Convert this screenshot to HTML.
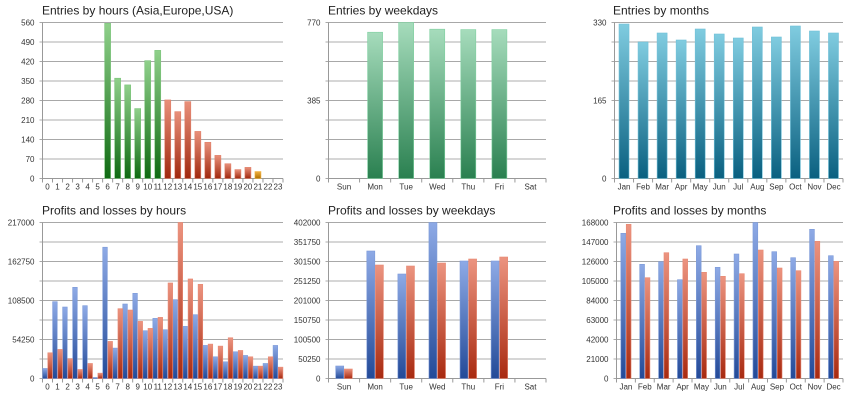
<!DOCTYPE html><html><head><meta charset="utf-8"><style>
body{margin:0;background:#fff;width:860px;height:400px;overflow:hidden}
svg{display:block;font-family:"Liberation Sans",sans-serif}
</style></head><body>
<svg id="s" width="860" height="400" xmlns="http://www.w3.org/2000/svg">
<defs>
<linearGradient id="gG" x1="0" y1="0" x2="0" y2="1"><stop offset="0" stop-color="#8fd08a"/><stop offset="1" stop-color="#0f6a12"/></linearGradient>
<linearGradient id="gR" x1="0" y1="0" x2="0" y2="1"><stop offset="0" stop-color="#e9907a"/><stop offset="1" stop-color="#a0280e"/></linearGradient>
<linearGradient id="gO" x1="0" y1="0" x2="0" y2="1"><stop offset="0" stop-color="#f0b040"/><stop offset="1" stop-color="#b07000"/></linearGradient>
<linearGradient id="gW" x1="0" y1="0" x2="0" y2="1"><stop offset="0" stop-color="#a6dcbc"/><stop offset="1" stop-color="#2a8050"/></linearGradient>
<linearGradient id="gM" x1="0" y1="0" x2="0" y2="1"><stop offset="0" stop-color="#80cce0"/><stop offset="1" stop-color="#0a6080"/></linearGradient>
<linearGradient id="gB" x1="0" y1="0" x2="0" y2="1"><stop offset="0" stop-color="#8eaae6"/><stop offset="1" stop-color="#234a98"/></linearGradient>
<linearGradient id="gL" x1="0" y1="0" x2="0" y2="1"><stop offset="0" stop-color="#ec9480"/><stop offset="1" stop-color="#a82a10"/></linearGradient>
</defs>
</svg>
<script>
var s=document.getElementById('s'),h='';
function chart(o){
 var x0=o.x0,x1=o.x1,top=o.top,bot=o.bot,n=o.cats.length,cw=(x1-x0)/n;
 h+='<text x="'+o.tx+'" y="'+(top-8)+'" font-size="12" fill="#222">'+o.title+'</text>';
 for(var i=0;i<=8;i++){var y=top+(bot-top)*i/8;
  if(i%2==0)h+='<line x1="'+(x0-3)+'" x2="'+x1+'" y1="'+y+'" y2="'+y+'" stroke="#a8a8a8" stroke-width="1"/>';
  else h+='<line x1="'+(x0-3)+'" x2="'+x1+'" y1="'+y+'" y2="'+y+'" stroke="#d6d6d6" stroke-width="2"/>';}
 o.ylab.forEach(function(l){var y=top+(bot-top)*l[0]/8;h+='<text x="'+(x0-8)+'" y="'+(y+3)+'" font-size="8" fill="#333" text-anchor="end">'+l[1]+'</text>';});
 h+='<line x1="'+x0+'" x2="'+x0+'" y1="'+top+'" y2="'+(bot+4)+'" stroke="#999"/>';
 h+='<line x1="'+x0+'" x2="'+x1+'" y1="'+bot+'" y2="'+bot+'" stroke="#999"/>';
 for(var i=0;i<=n;i++){var x=x0+cw*i;h+='<line x1="'+x+'" x2="'+x+'" y1="'+bot+'" y2="'+(bot+4)+'" stroke="#999"/>';}
 o.cats.forEach(function(c,i){h+='<text x="'+(x0+cw*(i+.5))+'" y="'+(bot+11)+'" font-size="8" fill="#333" text-anchor="middle">'+c+'</text>';});
 o.series.forEach(function(se,k){se.v.forEach(function(v,i){if(!v)return;
  var hh=Math.min(v/o.max,1)*(bot-top),c=x0+cw*(i+.5),bx;
  if(o.series.length==1)bx=c-o.bw/2;else bx=k==0?c-o.bw-0.3:c+0.3;
  var f=se.f(i);h+='<rect x="'+bx+'" y="'+(bot-hh)+'" width="'+o.bw+'" height="'+hh+'" fill="url(#'+f+')" stroke="'+se.s(i)+'" stroke-width="0.6"/>';});});
}
var hrs=[];for(var i=0;i<24;i++)hrs.push(i);
chart({x0:42.5,x1:283,top:22.5,bot:178.5,cats:hrs,bw:6,max:560,title:"Entries by hours (Asia,Europe,USA)",tx:42,
 ylab:[[0,560],[1,490],[2,420],[3,350],[4,280],[5,210],[6,140],[7,70],[8,0]],
 series:[{v:[0,0,0,0,0,0,557,360,336,251,423,460,282,240,276,169,130,83,53,32,40,25,0,0],
  f:function(i){return i<12?'gG':i<21?'gR':'gO'},s:function(i){return i<12?'#7cc47c':i<21?'#e0806a':'#f0b040'}}]});
var wk=["Sun","Mon","Tue","Wed","Thu","Fri","Sat"];
chart({x0:328.5,x1:546,top:22.5,bot:178.5,cats:wk,bw:15,max:770,title:"Entries by weekdays",tx:328,
 ylab:[[0,770],[4,385],[8,0]],
 series:[{v:[0,722,770,737,735,735,0],f:function(){return 'gW'},s:function(){return '#7fd0a0'}}]});
var mo=["Jan","Feb","Mar","Apr","May","Jun","Jul","Aug","Sep","Oct","Nov","Dec"];
function mv(ys){return ys.map(function(y){return (178.5-y)/156*330})}
chart({x0:614.5,x1:843,top:22.5,bot:178.5,cats:mo,bw:10,max:330,title:"Entries by months",tx:613,
 ylab:[[0,330],[4,165],[8,0]],
 series:[{v:mv([24,42,33,40,29,34,38,27,37,26,31,33]),f:function(){return 'gM'},s:function(){return '#70c0d8'}}]});
var H=217000;
function hv(a){return a.map(function(z){return (535-z)/467*H})}
chart({x0:42.5,x1:283,top:222.5,bot:378.5,cats:hrs,bw:4.6,max:H,title:"Profits and losses by hours",tx:42,
 ylab:[[0,217000],[2,162750],[4,108500],[6,54250],[8,0]],
 series:[{v:hv([505,305,321,262,317,532,142,444,312,280,392,355,389,299,379,344,436,470,485,455,466,498,490,436]),f:function(){return 'gB'},s:function(){return '#7c9ad8'}},
 {v:hv([458,448,476,508,490,519,424,326,330,364,385,352,249,60,237,253,432,438,413,451,470,498,470,501]),f:function(){return 'gL'},s:function(){return '#e88a74'}}]});
function yv(a,m){return a.map(function(y){return (378.5-y)/156*m})}
var W=402000,wl=[];for(var i=0;i<=8;i++)wl.push([i,W-50250*i]);
chart({x0:328.5,x1:546,top:222.5,bot:378.5,cats:wk,bw:8,max:W,title:"Profits and losses by weekdays",tx:328,
 ylab:wl,
 series:[{v:yv([366,251,274,222,261,261,378.5],W),f:function(){return 'gB'},s:function(){return '#7c9ad8'}},
 {v:yv([369,265,266,263,259,257,378.5],W),f:function(){return 'gL'},s:function(){return '#e88a74'}}]});
var M=168000,ml=[];for(var i=0;i<=8;i++)ml.push([i,M-21000*i]);
chart({x0:616.5,x1:843,top:222.5,bot:378.5,cats:mo,bw:4.8,max:M,title:"Profits and losses by months",tx:613,
 ylab:ml,
 series:[{v:yv([233.3,264.3,261.7,279.7,245.7,267.3,254,221,251.7,257.7,229.3,255.7],M),f:function(){return 'gB'},s:function(){return '#7c9ad8'}},
 {v:yv([224.3,277.7,252.7,259,272.3,276.3,273.7,250,268,270.7,241.3,261.3],M),f:function(){return 'gL'},s:function(){return '#e88a74'}}]});
s.insertAdjacentHTML('beforeend',h);
</script>
</body></html>
